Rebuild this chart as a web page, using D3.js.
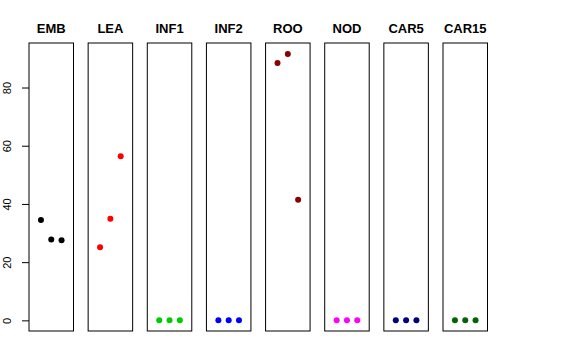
<!DOCTYPE html>
<html>
<head>
<meta charset="utf-8">
<script src="https://cdn.jsdelivr.net/npm/d3@7"></script>
<style>
  body { margin: 0; background: #fff; }
  text { font-family: "Liberation Sans", Arial, sans-serif; }
</style>
</head>
<body>
<svg id="chart" width="576" height="360"></svg>
<script>
const tissues = ["EMB", "LEA", "INF1", "INF2", "ROO", "NOD", "CAR5", "CAR15"]
const colors = ["#000000", "#ff0000", "#00cd00", "#0000ff", "#8b0000", "#ff00ff", "#000080", "#006400"]
const replicate = [1, 2, 3]
const values = [
  [34.5, 27.8, 27.5],
  [25.1, 34.9, 56.4],
  [0, 0, 0],
  [0, 0, 0],
  [88.4, 91.5, 41.4],
  [0, 0, 0],
  [0, 0, 0],
  [0, 0, 0]
]
const yTicks = [0, 20, 40, 60, 80]

const svg = d3.select("#chart")
const panelW = 44.5
const plotTop = 43, plotBottom = 331

const px = d3.scalePoint().domain(tissues).range([29, 443])
const y = d3.scaleLinear().domain([-3.66, 95.3]).range([plotBottom, plotTop])
const x = d3.scaleLinear().domain([-0.16, 4.16]).range([0, panelW])

tissues.forEach((t, i) => {
  const g = svg.append("g").attr("transform", `translate(${px(t)},0)`)

  g.append("rect")
    .attr("x", 0).attr("y", plotTop)
    .attr("width", panelW).attr("height", plotBottom - plotTop)
    .attr("fill", "none").attr("stroke", "#000").attr("stroke-width", 1)

  g.append("text")
    .attr("x", panelW / 2).attr("y", 33)
    .attr("text-anchor", "middle")
    .attr("font-weight", "bold").attr("font-size", 13)
    .text(t)

  g.selectAll("circle")
    .data(values[i])
    .join("circle")
    .attr("cx", (d, j) => x(replicate[j]))
    .attr("cy", d => y(d))
    .attr("r", 3)
    .attr("fill", colors[i])
})

// y axis on the first panel
const axis = d3.axisLeft(y).tickValues(yTicks).tickSize(7).tickPadding(5)
const ax = svg.append("g").attr("transform", `translate(29,0)`).call(axis)
ax.select(".domain").remove()
ax.selectAll("text")
  .attr("font-size", 11)
  .attr("font-family", "Liberation Sans, Arial, sans-serif")
  .attr("fill", "#000")
  .attr("transform", "rotate(-90, -18, 0)")
  .attr("x", -18).attr("y", 0).attr("dy", 0)
  .attr("text-anchor", "middle")
</script>
</body>
</html>
